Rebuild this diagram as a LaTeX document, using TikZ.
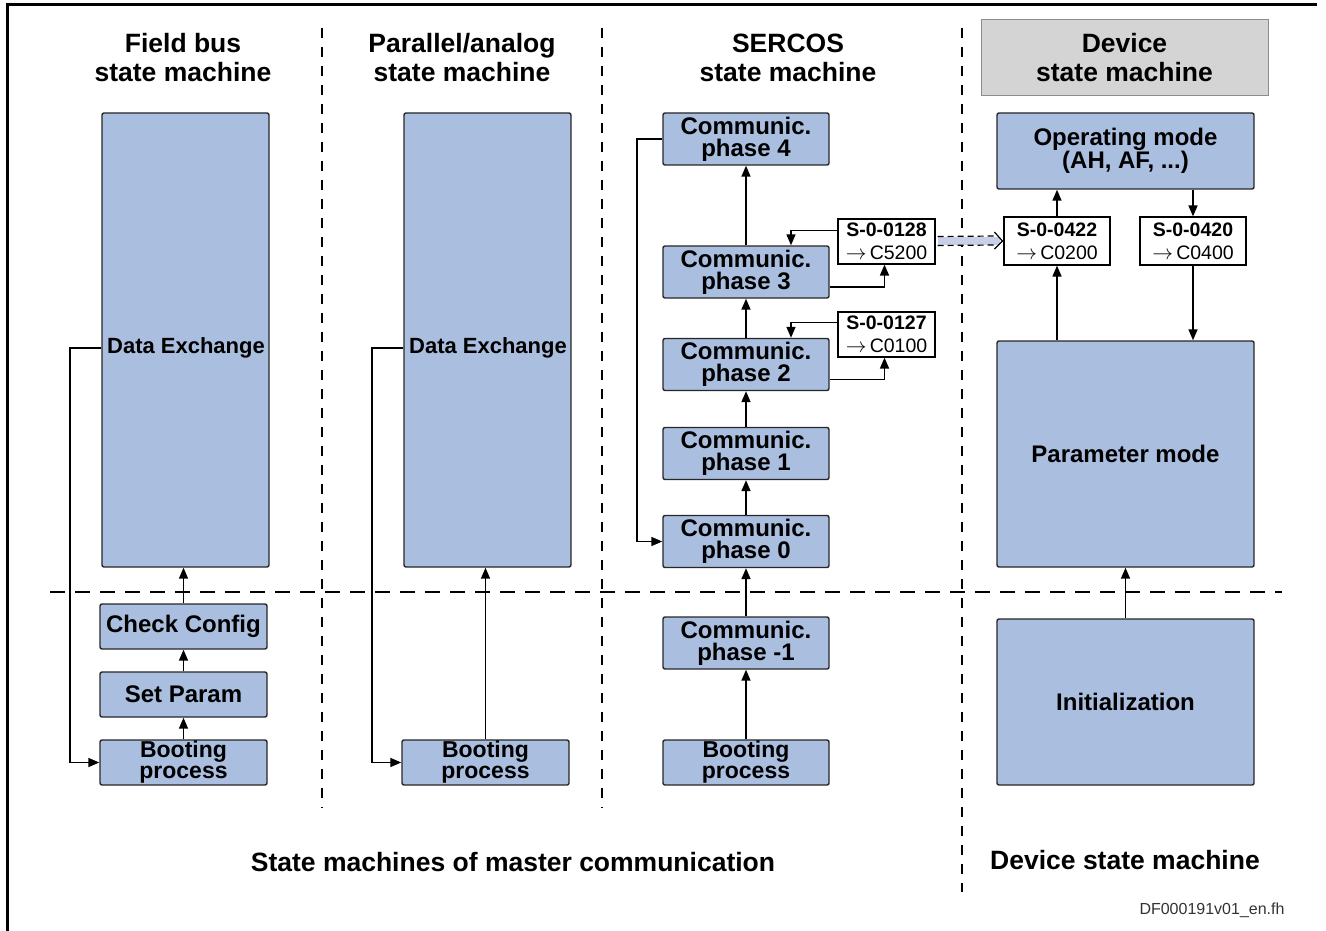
\documentclass[tikz,border=0pt]{standalone}
\usepackage{fontspec}
\setmainfont{Liberation Sans}
\usetikzlibrary{arrows.meta,calc}
\definecolor{boxblue}{RGB}{170,190,224}
\definecolor{boxgray}{RGB}{212,212,212}
\definecolor{bandblue}{RGB}{200,208,232}
\begin{document}
\begin{tikzpicture}[x=1pt,y=-1pt,
  box/.style={draw=black!85, fill=boxblue, rounded corners=2pt, line width=1.4pt, inner sep=0pt, align=center,
              font=\bfseries\fontsize{24}{22}\selectfont},
  boot/.style={box, font=\bfseries\fontsize{23}{21}\selectfont},
  sbox/.style={draw=black, fill=white, line width=1.2pt, inner sep=0pt, align=center,
              minimum width=97pt, minimum height=45pt, font=\fontsize{19.5}{23}\selectfont},
  title/.style={align=center, font=\bfseries\fontsize{26.5}{29}\selectfont},
  lbl/.style={font=\bfseries\fontsize{22}{22}\selectfont},
  arr/.style={-{Triangle[length=11pt,width=9pt]}, line width=1.6pt},
  vdash/.style={line width=1.4pt, dash pattern=on 10pt off 9pt},
  hdash/.style={line width=2.8pt, dash pattern=on 15pt off 10pt}]
\useasboundingbox (0,0) rectangle (1326,931);
% frame
\draw[line width=3pt] (1317,5) -- (7,5) -- (7,931);
% separators
\draw[vdash] (322,28) -- (322,808);
\draw[vdash] (602,28) -- (602,808);
\draw[vdash] (962,28) -- (962,892);
\draw[hdash] (50,592) -- (1282,592);
% titles
\node[title] (t1) at (183,57.5) {Field bus\\state machine};
\node[title] (t2) at (462,57.5) {Parallel/analog\\state machine};
\node[title] (t3) at (788,57.5) {SERCOS\\state machine};
\node[draw=black!45, fill=boxgray, line width=1pt, minimum width=287pt, minimum height=76pt, title] (t4) at (1124.5,58) {Device\\state machine};
% field bus
\node[box, minimum width=167pt, minimum height=454pt] (fde) at (185.5,340) {};
\node[lbl] (fdet) at (186,348) {Data Exchange};
\node[box, minimum width=167pt, minimum height=45pt] (fcheck) at (183.5,626.5) {Check Config};
\node[box, minimum width=167pt, minimum height=45pt] (fset) at (183.5,694.5) {Set Param};
\node[boot, minimum width=167pt, minimum height=45pt] (fboot) at (183.5,762.5) {Booting\\process};
\draw[arr] (fboot) -- (fset);
\draw[arr] (fset) -- (fcheck);
\draw[arr] (fcheck.north) -- (fcheck.north |- fde.south);
\draw[arr] (fdet.west -| fde.west) -- (70,348) |- (fboot.west);
% parallel
\node[box, minimum width=167pt, minimum height=454pt] (pde) at (487.5,340) {};
\node[lbl] (pdet) at (488,348) {Data Exchange};
\node[boot, minimum width=167pt, minimum height=45pt] (pboot) at (485.5,762.5) {Booting\\process};
\draw[arr] (pboot.north) -- (pboot.north |- pde.south);
\draw[arr] (pdet.west -| pde.west) -- (372,348) |- (pboot.west);
% SERCOS
\node[box, minimum width=166pt, minimum height=52pt] (p4) at (746,139) {Communic.\\phase 4};
\node[box, minimum width=166pt, minimum height=52pt] (p3) at (746,272) {Communic.\\phase 3};
\node[box, minimum width=166pt, minimum height=52pt] (p2) at (746,364.5) {Communic.\\phase 2};
\node[box, minimum width=166pt, minimum height=52pt] (p1) at (746,453.5) {Communic.\\phase 1};
\node[box, minimum width=166pt, minimum height=52pt] (p0) at (746,541.5) {Communic.\\phase 0};
\node[box, minimum width=166pt, minimum height=52pt] (pm1) at (746,643) {Communic.\\phase -1};
\node[boot, minimum width=166pt, minimum height=45pt] (sboot) at (746,762.5) {Booting\\process};
\draw[arr] (sboot) -- (pm1);
\draw[arr] (pm1) -- (p0);
\draw[arr] (p0) -- (p1);
\draw[arr] (p1) -- (p2);
\draw[arr] (p2) -- (p3);
\draw[arr] (p3) -- (p4);
\draw[arr] (p4.west) -- (637,139) |- (p0.west);
\node[sbox] (s128) at (886.5,241.5) {\textbf{S-0-0128}\\$\rightarrow$\,C5200};
\node[sbox] (s127) at (886.5,334.5) {\textbf{S-0-0127}\\$\rightarrow$\,C0100};
\draw[arr] ($(s128.west)+(0,-11)$) -| ($(p3.north)+(45,0)$);
\draw[arr] ($(p3.east)+(0,15)$) -| ($(s128.south)+(-2,0)$);
\draw[arr] ($(s127.west)+(0,-12)$) -| ($(p2.north)+(45,0)$);
\draw[arr] ($(p2.east)+(0,15)$) -| ($(s127.south)+(-2,0)$);
% device
\node[box, minimum width=257pt, minimum height=76pt] (opm) at (1125.5,151) {Operating mode\\(AH, AF, ...)};
\node[sbox, minimum width=106pt, minimum height=48pt] (s422) at (1057,241) {\textbf{S-0-0422}\\$\rightarrow$\,C0200};
\node[sbox, minimum width=106pt, minimum height=48pt] (s420) at (1193,241) {\textbf{S-0-0420}\\$\rightarrow$\,C0400};
\node[box, minimum width=257pt, minimum height=226pt] (pmode) at (1125.5,454) {Parameter mode};
\node[box, minimum width=257pt, minimum height=166pt] (init) at (1125.5,702) {Initialization};
\draw[arr] (s422.north) -- (s422.north |- opm.south);
\draw[arr] (s420.north |- opm.south) -- (s420.north);
\draw[arr] (s422.south |- pmode.north) -- (s422.south);
\draw[arr] (s420.south) -- (s420.south |- pmode.north);
\draw[arr] (init.north) -- (pmode.south);
% transfer arrow
\fill[bandblue] ($(s128.east)+(2,-5)$) rectangle ($(s422.west)+(-3,4)$);
\draw[line width=1.2pt, dash pattern=on 6pt off 4pt] ($(s128.east)+(2,-5)$) -- ($(s422.west)+(-6,-5)$);
\draw[line width=1.2pt, dash pattern=on 6pt off 4pt] ($(s128.east)+(2,4)$) -- ($(s422.west)+(-6,4)$);
\draw[line width=1.2pt] ($(s422.west)+(-9,-9)$) -- ($(s422.west)+(-1,0)$) -- ($(s422.west)+(-9,8)$);
% bottom labels
\node[font=\bfseries\fontsize{26.5}{26}\selectfont] (l1) at (513,862) {State machines of master communication};
\node[font=\bfseries\fontsize{26.5}{26}\selectfont] (l2) at (1125,860) {Device state machine};
\node[font=\fontsize{16}{16}\selectfont, text=black!80] (l3) at (1212,910) {DF000191v01\_en.fh};
\end{tikzpicture}
\end{document}
